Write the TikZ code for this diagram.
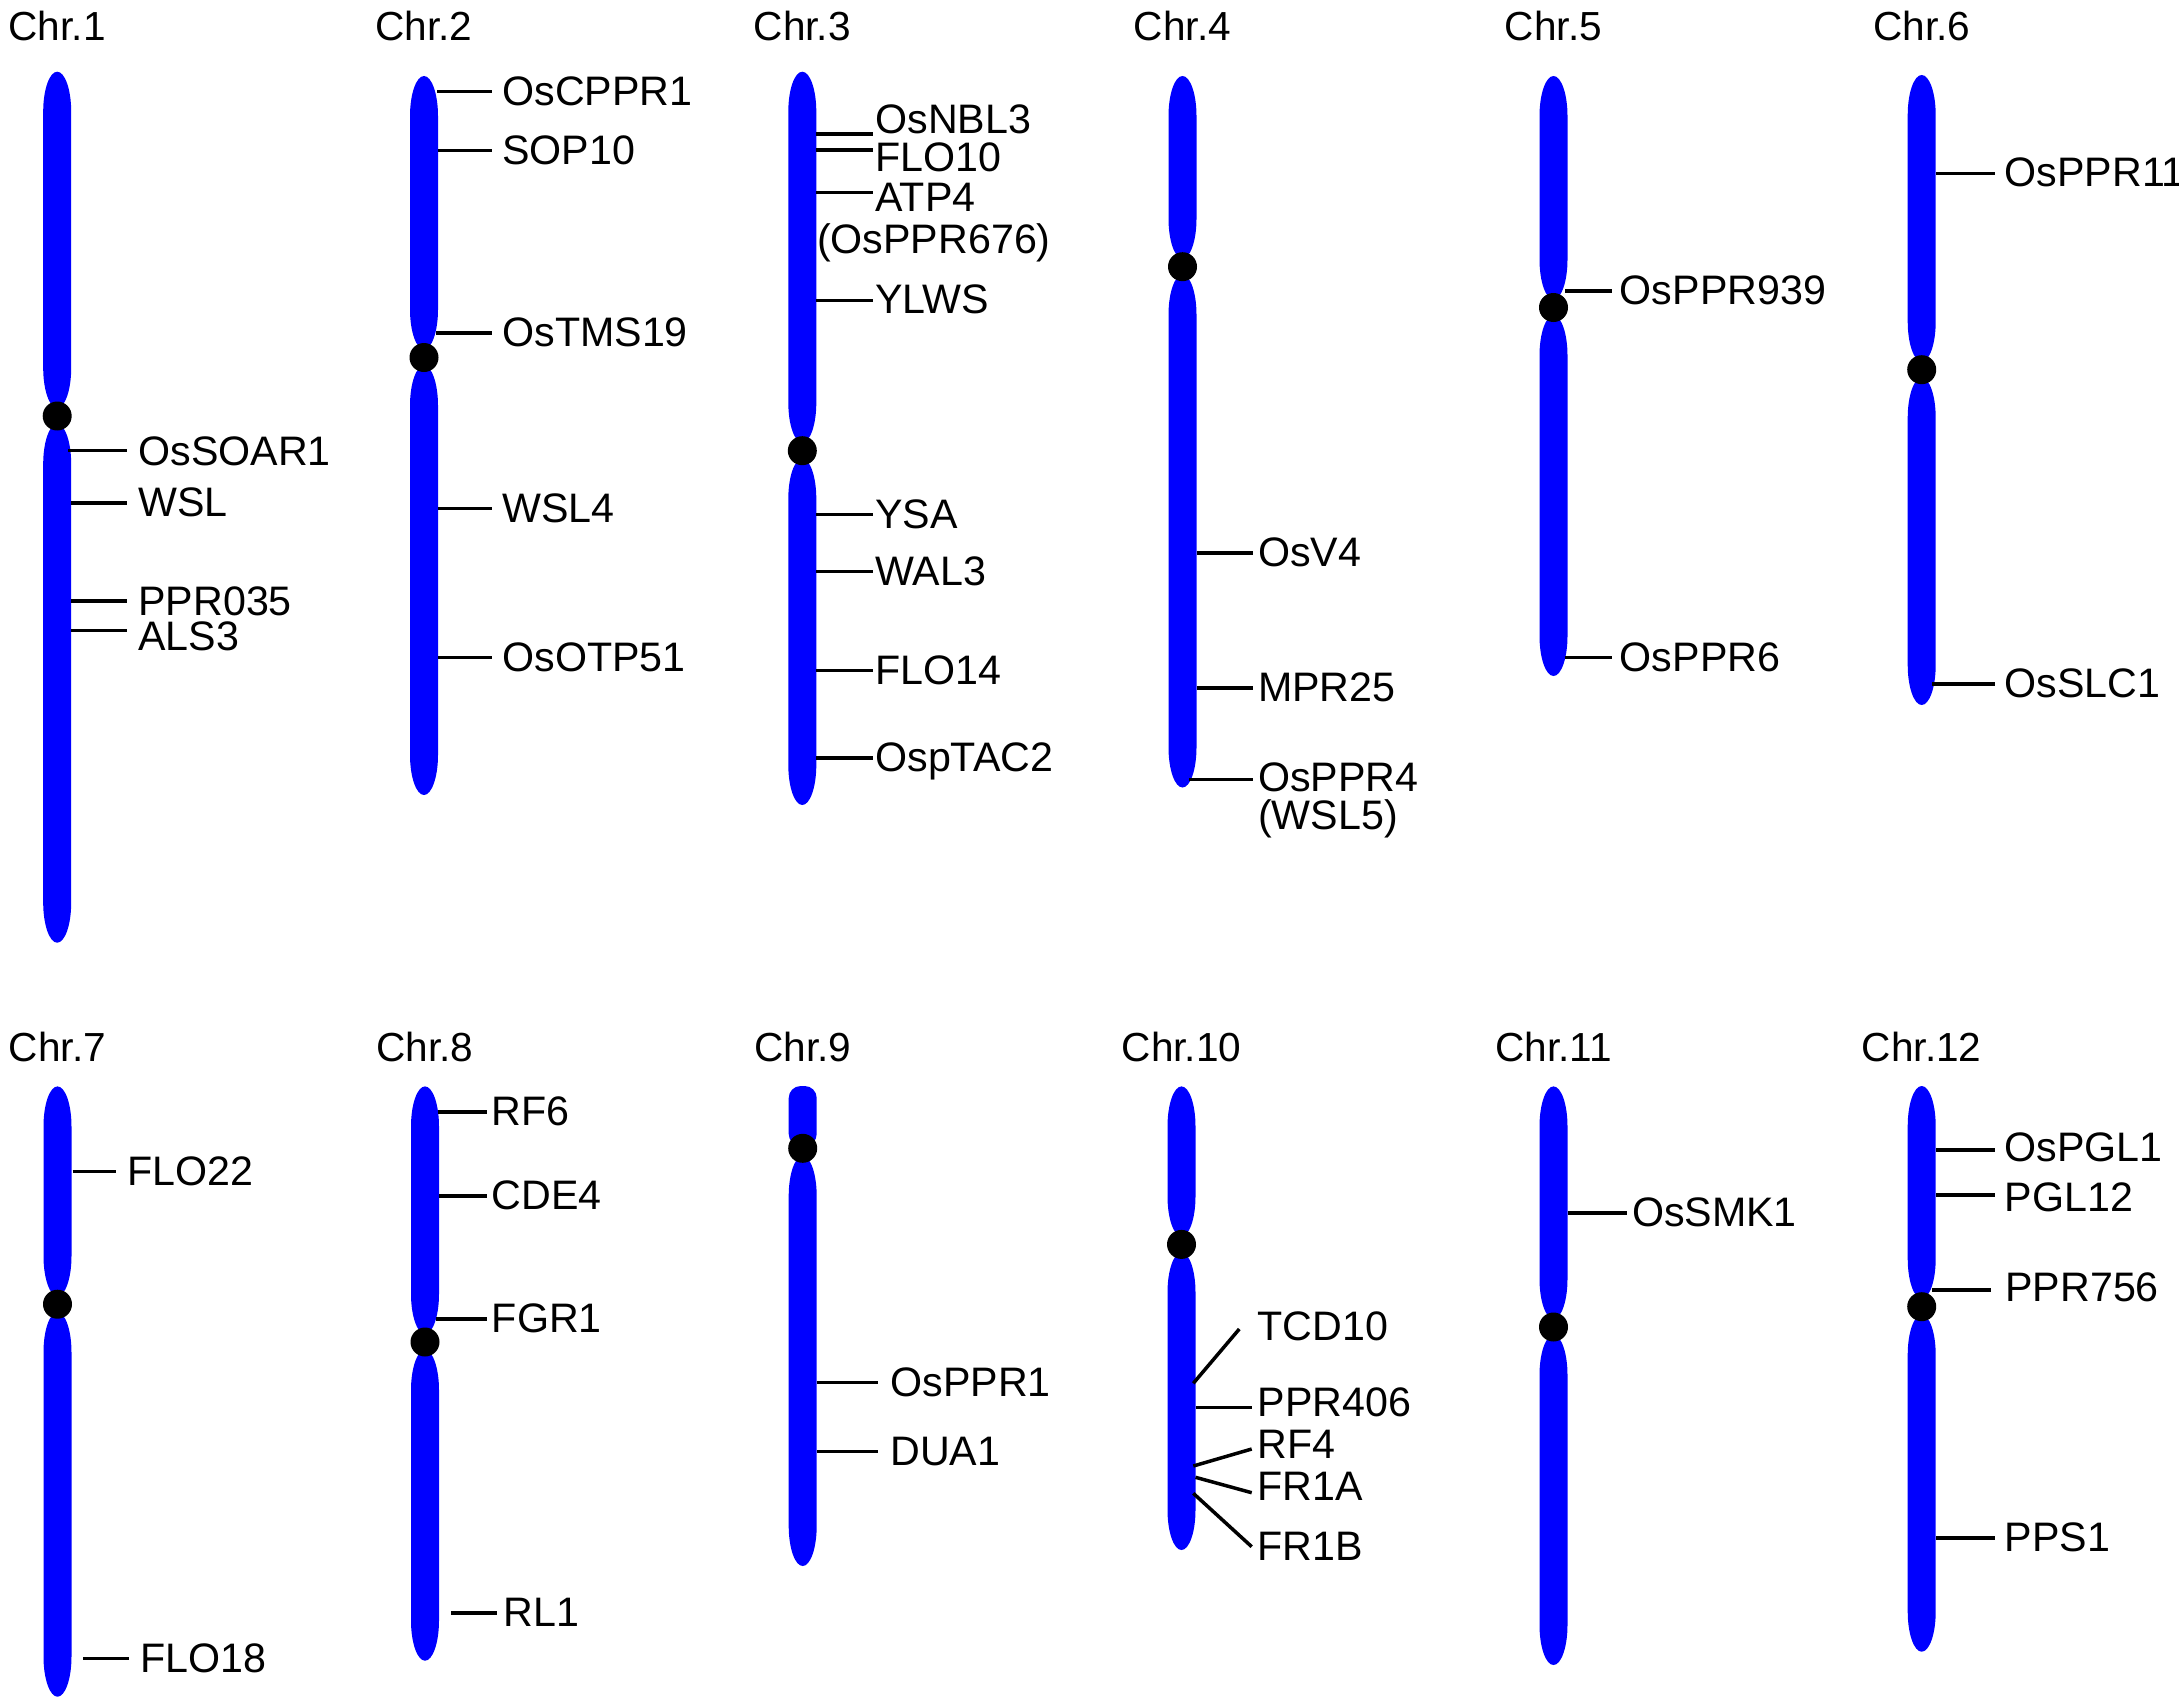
\documentclass[tikz,border=0pt]{standalone}
\usepackage{fontspec}
\setmainfont{Liberation Sans}
\newcommand\chrarm[3]{%
  \fill[chrfill] (#1-14,#2+40) .. controls (#1-14,#2+17.9) and (#1-7.73,#2) .. (#1,#2)
    .. controls (#1+7.73,#2) and (#1+14,#2+17.9) .. (#1+14,#2+40)
    -- (#1+14,#3-40) .. controls (#1+14,#3-17.9) and (#1+7.73,#3) .. (#1,#3)
    .. controls (#1-7.73,#3) and (#1-14,#3-17.9) .. (#1-14,#3-40) -- cycle;}
\newcommand\chrom[5]{%
  \chrarm{#2}{#3}{#4-8}
  \chrarm{#2}{#4+8}{#5}
  \node[cenball] (#1) at (#2,#4) {};}
\newcommand\gene[8]{%
  \coordinate (#1s) at (#2,#3);
  \coordinate (#1e) at (#4,#5);
  \draw[tick] (#1s) -- (#1e);
  \node[lab] (#1) at (#6,#7) {#8};}
\begin{document}
\begin{tikzpicture}[x=0.5pt,y=-0.5pt,
  chrfill/.style={fill=blue},
  cenball/.style={circle, fill=black, inner sep=0pt, minimum size=14.5pt},
  tick/.style={draw=black, line width=1.75pt},
  lab/.style={anchor=base west, inner sep=0pt, font=\fontsize{20.6}{24}\selectfont},
  ttl/.style={anchor=base, inner sep=0pt, font=\fontsize{20.3}{24}\selectfont}]
\useasboundingbox (0,0) rectangle (2179,1702);

% titles
\node[ttl] (t1) at (57.2,40.7) {Chr.1};
\node[ttl] (t2) at (424,40.7) {Chr.2};
\node[ttl] (t3) at (802.3,40.7) {Chr.3};
\node[ttl] (t4) at (1182.5,40.7) {Chr.4};
\node[ttl] (t5) at (1553.5,40.7) {Chr.5};
\node[ttl] (t6) at (1921.7,40.7) {Chr.6};
\node[ttl] (t7) at (57.5,1061) {Chr.7};
\node[ttl] (t8) at (425,1061) {Chr.8};
\node[ttl] (t9) at (802.7,1061) {Chr.9};
\node[ttl] (t10) at (1181.5,1061) {Chr.10};
\node[ttl] (t11) at (1553.5,1061) {Chr.11};
\node[ttl] (t12) at (1921.7,1061) {Chr.12};

% chromosomes
\chrom{c1}{57.2}{71.7}{416}{942.7}
\chrom{c2}{424}{76}{357.5}{795}
\chrom{c3}{802.3}{71.7}{450.7}{805}
\chrom{c4}{1182.5}{76}{266.7}{787.5}
\chrom{c5}{1553.5}{76}{307.5}{676}
\chrom{c6}{1921.7}{75}{369.7}{705}
\chrom{c7}{57.5}{1086.4}{1304.2}{1696.7}
\chrom{c8}{425}{1086.4}{1342}{1660.7}
\fill[chrfill, rounded corners=6pt] (788.7,1086) rectangle (816.7,1146);
\chrarm{802.7}{1156}{1566}
\node[cenball] (c9) at (802.7,1148.3) {};
\chrom{c10}{1181.5}{1086.4}{1244.4}{1550}
\chrom{c11}{1553.5}{1086.4}{1327}{1665}
\chrom{c12}{1921.7}{1086}{1306.7}{1651.7}

% Chr.1
\gene{g1a}{68.4}{450.7}{127}{450.7}{138}{465.9}{OsSOAR1}
\gene{g1b}{71.2}{503}{127}{503}{138}{516}{WSL}
\gene{g1c}{71.2}{601}{127}{601}{138}{615}{PPR035}
\gene{g1d}{71.2}{630.3}{127}{630.3}{138}{650.4}{ALS3}
% Chr.2
\gene{g2a}{437}{91.4}{491.5}{91.4}{502}{105}{OsCPPR1}
\gene{g2b}{438}{150.4}{491.5}{150.4}{502}{164}{SOP10}
\gene{g2c}{436}{333}{491.5}{333}{502}{346.5}{OsTMS19}
\gene{g2d}{438}{508.5}{491.5}{508.5}{502}{522}{WSL4}
\gene{g2e}{438}{657.7}{491.5}{657.7}{502}{671}{OsOTP51}
% Chr.3
\gene{g3a}{816}{134}{873.3}{134}{875}{133.3}{OsNBL3}
\gene{g3b}{816}{150}{873.3}{150}{875}{171.7}{FLO10}
\gene{g3c}{816}{192.3}{873.3}{192.3}{875}{211.7}{ATP4}
\node[lab] (g3c2) at (816.7,253.3) {(OsPPR676)};
\gene{g3d}{816}{300.7}{873.3}{300.7}{875}{313.3}{YLWS}
\gene{g3e}{816}{514.6}{873.3}{514.6}{875}{528}{YSA}
\gene{g3f}{816}{571.3}{873.3}{571.3}{875}{585}{WAL3}
\gene{g3g}{816}{670.5}{873.3}{670.5}{875}{684}{FLO14}
\gene{g3h}{816}{758.2}{873.3}{758.2}{875}{771.5}{OspTAC2}
% Chr.4
\gene{g4a}{1196.5}{553}{1252.8}{553}{1257.7}{566.5}{OsV4}
\gene{g4b}{1196.5}{688.2}{1252.8}{688.2}{1257.7}{701.7}{MPR25}
\gene{g4c}{1189}{779.5}{1252.8}{779.5}{1257.7}{791.7}{OsPPR4}
\node[lab] (g4c2) at (1257.7,829.5) {(WSL5)};
% Chr.5
\gene{g5a}{1565}{291}{1612.4}{291}{1619.5}{304.5}{OsPPR939}
\gene{g5b}{1565}{657.7}{1612.4}{657.7}{1619.5}{671}{OsPPR6}
% Chr.6
\gene{g6a}{1936}{173.3}{1995}{173.3}{2004.3}{186}{OsPPR11}
\gene{g6b}{1932}{684}{1995}{684}{2004.3}{697.5}{OsSLC1}
% Chr.7
\gene{g7a}{72.6}{1171.5}{116.4}{1171.5}{127}{1185}{FLO22}
\gene{g7b}{83.2}{1658.4}{129}{1658.4}{139.6}{1672}{FLO18}
% Chr.8
\gene{g8a}{438}{1112}{486.6}{1112}{491.5}{1125.5}{RF6}
\gene{g8b}{439}{1196.2}{486.6}{1196.2}{491.5}{1209.7}{CDE4}
\gene{g8c}{436}{1319}{486.6}{1319}{491.5}{1332.5}{FGR1}
\gene{g8d}{451.3}{1613}{497.2}{1613}{503.5}{1626.5}{RL1}
% Chr.9
\gene{g9a}{816.7}{1382.5}{878}{1382.5}{890}{1396}{OsPPR1}
\gene{g9b}{816.7}{1451.4}{878}{1451.4}{890}{1465}{DUA1}
% Chr.10
\gene{g10a}{1193.3}{1383.3}{1239.3}{1329}{1257.3}{1340}{TCD10}
\gene{g10b}{1195.5}{1407.7}{1251.7}{1407.7}{1257.3}{1416.7}{PPR406}
\gene{g10c}{1193.3}{1466}{1251.7}{1449}{1257.3}{1458.3}{RF4}
\gene{g10d}{1195.5}{1477.3}{1251.7}{1492.7}{1257.3}{1500}{FR1A}
\gene{g10e}{1193.3}{1493.3}{1251.7}{1546.7}{1257.3}{1560}{FR1B}
% Chr.11
\gene{g11a}{1567.5}{1212.9}{1627.4}{1212.9}{1631.6}{1226.5}{OsSMK1}
% Chr.12
\gene{g12a}{1936}{1150}{1995}{1150}{2004.3}{1161.7}{OsPGL1}
\gene{g12b}{1936}{1195}{1995}{1195}{2004.3}{1211.7}{PGL12}
\gene{g12c}{1931.7}{1290}{1990.7}{1290}{2005}{1301.7}{PPR756}
\gene{g12d}{1936}{1537.8}{1995}{1537.8}{2004.3}{1551.3}{PPS1}
\end{tikzpicture}
\end{document}
